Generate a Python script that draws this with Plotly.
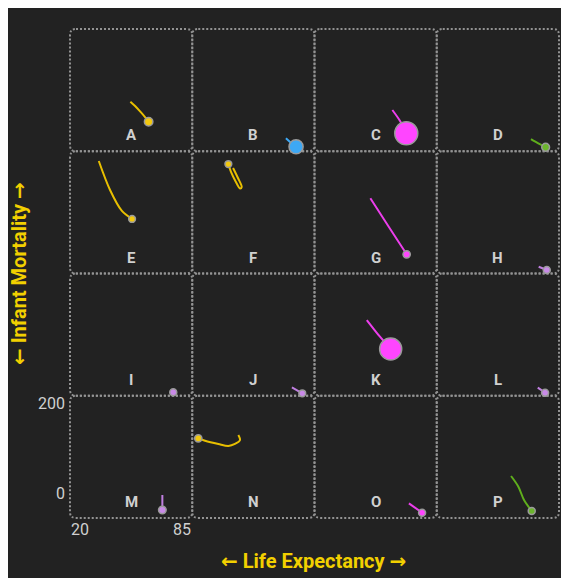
import plotly.graph_objects as go

# ---------------- data ----------------
cells = list("ABCDEFGHIJKLMNOP")
region = ["Africa", "Americas", "Asia", "Europe",
          "Africa", "Africa", "Asia", "Middle East",
          "Middle East", "Middle East", "Asia", "Middle East",
          "Middle East", "Africa", "Asia", "Europe"]
# trajectories, oldest -> newest (last point carries the circle)
life_expectancy = [
    [52.1, 54.6, 57.4, 60.0, 61.8],
    [69.8, 72.6, 75.2],
    [61.4, 65.5, 68.8],
    [70.1, 74.0, 77.9],
    [35.3, 41.3, 47.6, 53.0],
    [41.7, 44.3, 46.3, 45.4, 43.0, 40.6, 39.2],
    [49.7, 59.3, 69.0],
    [74.2, 78.5],
    [74.0, 74.9],
    [73.0, 78.5],
    [47.8, 54.8, 60.5],
    [73.7, 77.6],
    [69.1, 69.1],
    [44.5, 45.4, 42.7, 39.2, 33.9, 26.8, 23.2],
    [70.2, 77.2],
    [59.5, 63.4, 66.4, 70.5],
]
infant_mortality = [
    [81.1, 74.0, 64.7, 55.5, 48.3],
    [21.2, 13.5, 7.4],
    [67.5, 49.5, 29.4],
    [20.0, 13.0, 6.5],
    [184.1, 136.6, 102.3, 89.2],
    [172.6, 156.2, 141.5, 139.0, 151.0, 166.1, 179.1],
    [123.0, 77.2, 31.4],
    [11.1, 5.7],
    [7.0, 5.6],
    [13.8, 4.0],
    [123.9, 96.6, 76.5],
    [13.2, 5.0],
    [37.6, 13.1],
    [135.8, 127.6, 121.1, 117.8, 121.1, 126.5, 130.4],
    [24.0, 8.7],
    [68.7, 51.2, 29.4, 11.5],
]
population_m = [30, 320, 1400, 16, 3, 3, 8, 5, 5, 3, 1250, 5, 12, 8, 5, 5]

x_domain = [20, 85]
y_domain = [0, 200]
x_tick_labels = ["20", "85"]
y_tick_labels = ["200", "0"]
x_title = "Life Expectancy"
y_title = "Infant Mortality"

# ---------------- styling ----------------
region_colors = {
    "Africa": "#f2c80f",
    "Americas": "#3da8f5",
    "Asia": "#ff45ff",
    "Europe": "#6cb52d",
    "Middle East": "#c98ae8",
}
line_colors = {
    "Africa": "#e8bf00",
    "Americas": "#3da8f5",
    "Asia": "#ec3eec",
    "Europe": "#5fae1c",
    "Middle East": "#c07fe0",
}
BG = "#222222"
BORDER = "#939393"
TXT = "#d0d0d0"
YEL = "#f2d000"
FONT = "Roboto"

W, H = 561, 570
GX0, GY0, CELL = 62.0, 21.0, 122.25
NCOL = 4

fig = go.Figure()
shapes = []
annotations = []


def px_to_paper(x, y):
    return x / W, 1 - y / H


def rounded_rect(x0, y0, x1, y1, r):
    def P(x, y):
        a, b = px_to_paper(x, y)
        return f"{a:.5f},{b:.5f}"
    return (f"M {P(x0 + r, y0)} L {P(x1 - r, y0)} Q {P(x1, y0)} {P(x1, y0 + r)} "
            f"L {P(x1, y1 - r)} Q {P(x1, y1)} {P(x1 - r, y1)} "
            f"L {P(x0 + r, y1)} Q {P(x0, y1)} {P(x0, y1 - r)} "
            f"L {P(x0, y0 + r)} Q {P(x0, y0)} {P(x0 + r, y0)} Z")


def marker_size(p):
    return 6 + 17 * (p / 1400) ** 0.5


def arrow_title(t):
    a = "<span style='font-family:DejaVu Sans'>"
    return f"<b>{a}←</span> {t} {a}→</span></b>"


for i, name in enumerate(cells):
    r, c = divmod(i, NCOL)
    n = i + 1
    xs = "" if n == 1 else str(n)
    x0 = GX0 + c * CELL
    x1 = x0 + CELL
    y0 = GY0 + r * CELL
    y1 = y0 + CELL
    fig.update_layout({
        f"xaxis{xs}": dict(domain=[x0 / W, x1 / W], range=x_domain, anchor=f"y{xs}",
                           visible=False, fixedrange=True),
        f"yaxis{xs}": dict(domain=[1 - y1 / H, 1 - y0 / H], range=y_domain, anchor=f"x{xs}",
                           visible=False, fixedrange=True),
    })
    shapes.append(dict(type="path", xref="paper", yref="paper",
                       path=rounded_rect(x0, y0, x1, y1, 6),
                       line=dict(color=BORDER, width=2, dash="2px,2px"),
                       layer="below"))
    reg = region[i]
    lx = life_expectancy[i]
    iy = infant_mortality[i]
    fig.add_trace(go.Scatter(
        x=lx, y=iy, mode="lines", xaxis=f"x{xs}", yaxis=f"y{xs}",
        line=dict(color=line_colors[reg], width=2, shape="spline", smoothing=0.9),
        hoverinfo="skip", showlegend=False))
    fig.add_trace(go.Scatter(
        x=[lx[-1]], y=[iy[-1]], mode="markers", xaxis=f"x{xs}", yaxis=f"y{xs}",
        marker=dict(size=marker_size(population_m[i]), color=region_colors[reg],
                    line=dict(color="#9a9a9a", width=1.5)),
        cliponaxis=False, showlegend=False, name=name))
    annotations.append(dict(
        text=f"<b>{name}</b>", xref=f"x{xs}", yref=f"y{xs}",
        x=sum(x_domain) / 2, y=y_domain[0], yshift=16, showarrow=False,
        xanchor="center", yanchor="middle",
        font=dict(family=FONT, size=15, color=TXT)))

# tick labels on the bottom-left cell
bl = str(NCOL * (NCOL - 1) + 1)
annotations += [
    dict(text=x_tick_labels[0], xref=f"x{bl}", yref=f"y{bl}", x=x_domain[0], y=y_domain[0],
         xanchor="left", yanchor="middle", yshift=-11, xshift=-1, showarrow=False,
         font=dict(family=FONT, size=16, color=TXT)),
    dict(text=x_tick_labels[1], xref=f"x{bl}", yref=f"y{bl}", x=x_domain[1], y=y_domain[0],
         xanchor="right", yanchor="middle", yshift=-11, xshift=1, showarrow=False,
         font=dict(family=FONT, size=16, color=TXT)),
    dict(text=y_tick_labels[0], xref=f"x{bl}", yref=f"y{bl}", x=x_domain[0], y=y_domain[1],
         xanchor="right", yanchor="middle", yshift=-8, xshift=-3, showarrow=False,
         font=dict(family=FONT, size=16, color=TXT)),
    dict(text=y_tick_labels[1], xref=f"x{bl}", yref=f"y{bl}", x=x_domain[0], y=y_domain[0],
         xanchor="right", yanchor="middle", yshift=24, xshift=-3, showarrow=False,
         font=dict(family=FONT, size=16, color=TXT)),
]

# axis titles
tx, ty = px_to_paper(GX0 + 2 * CELL - 1.5, 552.5)
annotations.append(dict(text=arrow_title(x_title), xref="paper", yref="paper", x=tx, y=ty,
                        xanchor="center", yanchor="middle", showarrow=False,
                        font=dict(family=FONT, size=20, color=YEL)))
vx, vy = px_to_paper(11, GY0 + 2 * CELL + 0.5)
annotations.append(dict(text=arrow_title(y_title), xref="paper", yref="paper", x=vx, y=vy,
                        xanchor="center", yanchor="middle", textangle=-90, showarrow=False,
                        borderpad=0,
                        font=dict(family=FONT, size=20, color=YEL)))

fig.update_layout(
    width=W, height=H,
    margin=dict(l=0, r=0, t=0, b=0, pad=0),
    paper_bgcolor=BG, plot_bgcolor="rgba(0,0,0,0)",
    shapes=shapes, annotations=annotations,
    showlegend=False, hovermode=False,
)

fig.write_html("out.html", config={"displayModeBar": False})
